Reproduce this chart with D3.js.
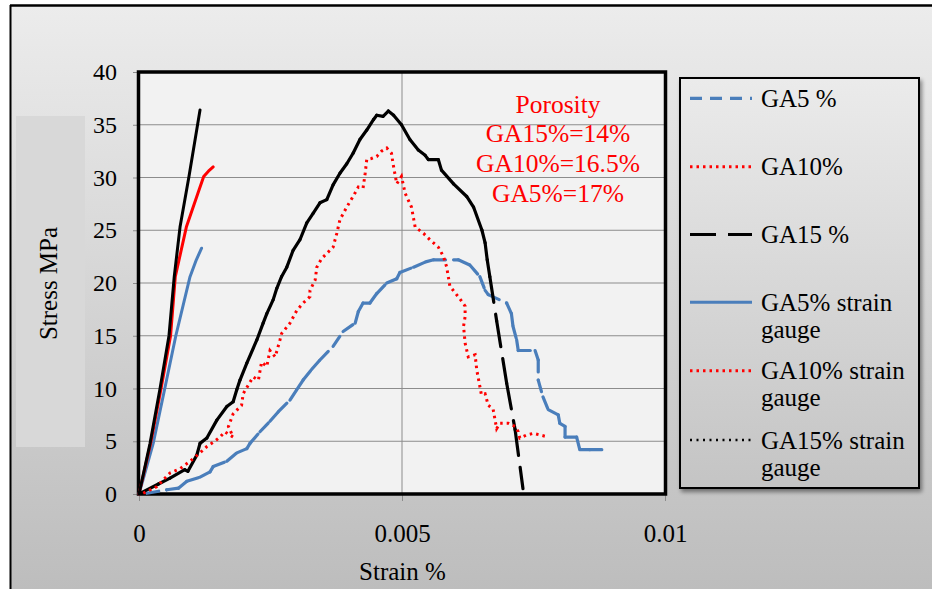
<!DOCTYPE html>
<html>
<head>
<meta charset="utf-8">
<script src="https://cdn.jsdelivr.net/npm/d3@7"></script>
<style>
  html, body { margin: 0; padding: 0; background: #fff; }
  svg text, svg tspan { font-family: "Liberation Serif", "Times New Roman", Times, "DejaVu Serif", serif !important; }
</style>
</head>
<body>
<svg id="chart" width="932" height="589"></svg>
<script>
// ---------- data (strain, stress MPa) ----------
const xTicks = [0, 0.005, 0.01];
const xTickLabels = ["0", "0.005", "0.01"];
const yTicks = [0, 5, 10, 15, 20, 25, 30, 35, 40];

const ga5 = [[0.00015,0.07],[0.00053,0.4],[0.00075,0.55],[0.00091,1.2],[0.00116,1.6],[0.00135,2.1],[0.00141,2.6],
  [0.00167,3.1],[0.00186,3.9],[0.00205,4.3],[0.00211,4.8],[0.0023,5.9],[0.00249,6.9],[0.00265,7.8],[0.00287,8.9],
  [0.003,9.9],[0.00312,10.8],[0.00328,11.8],[0.00344,12.7],[0.00369,14.0],[0.00388,15.4],[0.00411,16.2],[0.00417,17.3],
  [0.00426,18.1],[0.00439,18.1],[0.00452,19.0],[0.00471,20.0],[0.0049,20.4],[0.00496,21.0],[0.00522,21.5],[0.00545,22.0],
  [0.0056,22.2],[0.00607,22.2],[0.00629,21.7],[0.00648,20.6],[0.00658,19.3],[0.00664,18.9],[0.00699,18.1],[0.00708,17.1],
  [0.00711,15.9],[0.00718,14.6],[0.00721,13.6],[0.00753,13.6],[0.00759,12.7],[0.00759,10.8],[0.00768,9.2],[0.00778,8.0],
  [0.00797,7.5],[0.008,6.7],[0.0081,6.4],[0.0081,5.4],[0.00832,5.4],[0.00838,4.2],[0.00857,4.2],[0.00895,4.2]];

const ga10 = [[0.00008,0.07],[0.00034,0.7],[0.00059,2.0],[0.00078,2.4],[0.00097,3.1],[0.00116,3.9],[0.00129,4.5],
  [0.00144,5.0],[0.00154,5.4],[0.00163,5.9],[0.00179,5.4],[0.0017,6.4],[0.00179,7.6],[0.00195,8.4],[0.00198,9.5],
  [0.00217,11.1],[0.00227,10.8],[0.00233,12.5],[0.00243,12.1],[0.00249,13.6],[0.00259,13.0],[0.00268,14.6],[0.00271,15.2],
  [0.00287,16.2],[0.003,17.4],[0.00312,18.1],[0.00325,18.7],[0.00325,19.3],[0.00335,20.3],[0.00338,21.5],[0.00347,22.3],
  [0.00363,23.1],[0.00369,23.4],[0.00376,24.7],[0.00382,26.0],[0.00395,27.2],[0.00407,28.2],[0.00417,29.1],[0.00426,29.0],
  [0.0043,30.4],[0.00433,31.7],[0.00442,31.8],[0.00452,32.0],[0.00461,32.5],[0.00471,32.8],[0.0048,32.3],[0.00483,31.3],
  [0.0049,29.4],[0.00499,30.1],[0.00506,28.5],[0.00518,27.2],[0.00525,25.3],[0.00541,24.7],[0.00553,24.1],[0.00569,23.4],
  [0.00579,22.5],[0.00585,21.5],[0.00591,19.7],[0.0061,18.5],[0.0062,17.8],[0.0062,16.8],[0.00617,15.9],[0.0062,14.3],
  [0.00626,13.0],[0.00639,13.2],[0.00642,11.8],[0.00648,10.2],[0.00651,9.4],[0.00658,9.5],[0.00664,8.4],[0.00673,8.1],
  [0.00677,7.0],[0.0068,6.2],[0.00686,6.7],[0.00702,6.7],[0.00715,6.4],[0.00721,5.9],[0.00724,5.3],[0.00737,5.6],
  [0.0075,5.75],[0.00762,5.6],[0.00778,5.4]];

const ga15 = [[0.00002,0.06],[0.00037,0.95],[0.00059,1.5],[0.00087,2.3],[0.00093,2.15],[0.0011,3.7],[0.00116,4.8],
  [0.00129,5.3],[0.00148,7.0],[0.00167,8.3],[0.00179,8.75],[0.00186,9.9],[0.00192,10.8],[0.00205,12.4],[0.00224,14.6],
  [0.00236,16.2],[0.00243,17.1],[0.00255,18.4],[0.00262,19.5],[0.00271,20.6],[0.00281,21.5],[0.00293,23.1],[0.00306,24.1],
  [0.00319,25.7],[0.00331,26.6],[0.00344,27.6],[0.00357,27.9],[0.00369,29.3],[0.00382,30.4],[0.00395,31.3],[0.00407,32.3],
  [0.0042,33.6],[0.00433,34.5],[0.00446,35.5],[0.00452,35.9],[0.00464,35.8],[0.00474,36.3],[0.00484,35.9],[0.00499,35.0],
  [0.00515,33.6],[0.00531,32.6],[0.00544,32.1],[0.0055,31.7],[0.00569,31.7],[0.00575,30.7],[0.00598,29.4],[0.00623,28.2],
  [0.00636,27.2],[0.00652,25.0],[0.00658,23.8],[0.00662,22.2],[0.00667,20.6],[0.0068,16.4],[0.00699,10.5],[0.00715,6.1],
  [0.0073,0.5]];

const ga5Gauge = [[0,0],[0.00027,4.8],[0.00049,10],[0.0007,15],[0.00097,20.6],[0.00109,22.2],[0.00119,23.3]];
const ga10Gauge = [[0,0],[0.00022,4.8],[0.00042,10],[0.0006,15],[0.00069,20.6],[0.0009,25.3],[0.00112,28.5],
  [0.00123,30.1],[0.00132,30.6],[0.00141,31.0]];
const ga15Gauge = [[0,0],[0.00021,4.8],[0.0004,10],[0.00057,15],[0.00067,20.6],[0.00078,25.3],[0.00095,30.1],[0.00116,36.4]];

const seriesNames = ["GA5 %", "GA10%", "GA15 %", "GA5% strain gauge", "GA10% strain gauge", "GA15% strain gauge"];
const porosityLines = ["Porosity", "GA15%=14%", "GA10%=16.5%", "GA5%=17%"];

// ---------- layout ----------
const FONT = '"Liberation Serif", "Times New Roman", Times, "DejaVu Serif", serif';
const svg = d3.select("#chart");
const W = 932, H = 589;
const plot = { left: 139, top: 72, right: 665, bottom: 494 };
const x = d3.scaleLinear().domain([0, 0.01]).range([plot.left, plot.right]);
const y = d3.scaleLinear().domain([0, 40]).range([plot.bottom, plot.top]);

const defs = svg.append("defs");
const bg = defs.append("linearGradient").attr("id", "bg").attr("x1", 0).attr("y1", 0).attr("x2", 0).attr("y2", 1);
bg.append("stop").attr("offset", "0%").attr("stop-color", "#ececec");
bg.append("stop").attr("offset", "100%").attr("stop-color", "#bdbdbd");
const lg = defs.append("linearGradient").attr("id", "lg").attr("x1", 0).attr("y1", 0).attr("x2", 0).attr("y2", 1);
lg.append("stop").attr("offset", "0%").attr("stop-color", "#ebebeb");
lg.append("stop").attr("offset", "100%").attr("stop-color", "#c4c4c4");
const sh = defs.append("filter").attr("id", "shadow").attr("x", "-10%").attr("y", "-10%").attr("width", "130%").attr("height", "130%");
sh.append("feGaussianBlur").attr("in", "SourceAlpha").attr("stdDeviation", 2);
sh.append("feOffset").attr("dx", 2).attr("dy", 3).attr("result", "b");
sh.append("feComponentTransfer").append("feFuncA").attr("type", "linear").attr("slope", 0.45);
const m = sh.append("feMerge"); m.append("feMergeNode"); m.append("feMergeNode").attr("in", "SourceGraphic");

// figure background + frame
svg.append("rect").attr("x", 0).attr("y", 0).attr("width", W).attr("height", H).attr("fill", "#fff");
svg.append("rect").attr("x", 10).attr("y", 5).attr("width", W - 10).attr("height", H - 5).attr("fill", "url(#bg)");
svg.append("line").attr("x1", 10.5).attr("x2", 10.5).attr("y1", 5).attr("y2", H).attr("stroke", "#000").attr("stroke-width", 2);
svg.append("line").attr("x1", 10).attr("x2", W).attr("y1", 5.5).attr("y2", 5.5).attr("stroke", "#000").attr("stroke-width", 2.5);

// y-label panel
svg.append("rect").attr("x", 16).attr("y", 116).attr("width", 69).attr("height", 331).attr("fill", "#d8d8d8");

// plot area
svg.append("rect").attr("x", plot.left).attr("y", plot.top).attr("width", plot.right - plot.left)
  .attr("height", plot.bottom - plot.top).attr("fill", "#f2f2f2");

// gridlines
svg.append("g").selectAll("line").data(yTicks.filter(d => d > 0 && d < 40)).join("line")
  .attr("x1", plot.left).attr("x2", plot.right).attr("y1", d => y(d)).attr("y2", d => y(d))
  .attr("stroke", "#8c8c8c").attr("stroke-width", 1);
svg.append("line").attr("x1", x(0.005)).attr("x2", x(0.005)).attr("y1", plot.top).attr("y2", plot.bottom)
  .attr("stroke", "#8c8c8c").attr("stroke-width", 1);

// axes
const yAxis = d3.axisLeft(y).tickValues(yTicks).tickSize(6).tickPadding(16).tickFormat(d3.format("d"));
const gy = svg.append("g").attr("transform", `translate(${plot.left},0)`).call(yAxis).attr("font-family", FONT);
gy.select(".domain").remove();
gy.selectAll(".tick line").attr("stroke", "#8c8c8c");
gy.selectAll(".tick text").attr("font-size", 24).attr("fill", "#000").style("font-family", FONT);

const xAxis = d3.axisBottom(x).tickValues(xTicks).tickSize(7).tickPadding(23).tickFormat((d, i) => xTickLabels[i]);
const gx = svg.append("g").attr("transform", `translate(0,${plot.bottom})`).call(xAxis).attr("font-family", FONT);
gx.select(".domain").remove();
gx.selectAll(".tick line").attr("stroke", "#8c8c8c");
gx.selectAll(".tick text").attr("font-size", 25).attr("fill", "#000").style("font-family", FONT);

// plot border
svg.append("rect").attr("x", plot.left - 0.5).attr("y", plot.top).attr("width", plot.right - plot.left + 1)
  .attr("height", plot.bottom - plot.top).attr("fill", "none").attr("stroke", "#000").attr("stroke-width", 3.5);

// axis titles
svg.append("text").attr("x", 402.5).attr("y", 580).attr("text-anchor", "middle").attr("font-size", 25)
  .style("font-family", FONT).text("Strain %");
svg.append("text").attr("transform", `translate(57,${(116 + 447) / 2 + 2}) rotate(-90)`).attr("text-anchor", "middle")
  .attr("font-size", 25).style("font-family", FONT).text("Stress MPa");

// ---------- series ----------
const line = d3.line().x(d => x(d[0])).y(d => y(d[1]));
const gS = svg.append("g");

// solid strain gauge curves
[[ga5Gauge, "#4a7ebb"], [ga10Gauge, "#ff0000"], [ga15Gauge, "#000"]].forEach(([pts, c]) => {
  gS.append("path").datum(pts).attr("d", line).attr("fill", "none").attr("stroke", c)
    .attr("stroke-width", 3).attr("stroke-linejoin", "round").attr("stroke-linecap", "round");
});

// dashed curves: dash pattern restarts at each data point (as in the original)
function segDashed(pts, color, dash, width) {
  gS.append("g").selectAll("path").data(d3.pairs(pts)).join("path")
    .attr("d", d => line(d)).attr("fill", "none").attr("stroke", color).attr("stroke-width", width)
    .attr("stroke-dasharray", dash).attr("stroke-linecap", "round");
}
segDashed(ga5, "#4a7ebb", "12,8", 3.2);
segDashed(ga15, "#000", "26,12", 3.2);

// dotted GA10%
gS.append("path").datum(ga10).attr("d", line).attr("fill", "none").attr("stroke", "#ff0000")
  .attr("stroke-width", 3).attr("stroke-dasharray", "2.5,4").attr("stroke-linecap", "butt");

// ---------- annotation ----------
const annY = [113, 142, 172, 201.5];
svg.append("g").selectAll("text").data(porosityLines).join("text")
  .attr("x", 558).attr("y", (d, i) => annY[i]).attr("text-anchor", "middle")
  .attr("font-size", 25.5).attr("fill", "#ff0000").style("font-family", FONT).text(d => d);

// ---------- legend ----------
const leg = svg.append("g");
leg.append("rect").attr("x", 680).attr("y", 78).attr("width", 239).attr("height", 410)
  .attr("fill", "url(#lg)").attr("stroke", "#000").attr("stroke-width", 2).attr("filter", "url(#shadow)");

const legStyles = [
  { c: "#4a7ebb", dash: "12,8", w: 3.2 },
  { c: "#ff0000", dash: "2.5,4", w: 3 },
  { c: "#000", dash: "26,12", w: 3.2 },
  { c: "#4a7ebb", dash: null, w: 3 },
  { c: "#ff0000", dash: "2.5,4", w: 3 },
  { c: "#000", dash: "2,4.5", w: 2.5 }
];
const legY = [98.3, 166.7, 234.5, 302.3, 370.7, 440];
const legItems = leg.selectAll("g.item").data(seriesNames).join("g").attr("class", "item")
  .attr("transform", (d, i) => `translate(0,${legY[i]})`);
legItems.append("line").attr("x1", 690).attr("x2", 752).attr("y1", 0).attr("y2", 0)
  .attr("stroke", (d, i) => legStyles[i].c).attr("stroke-width", (d, i) => legStyles[i].w)
  .attr("stroke-dasharray", (d, i) => legStyles[i].dash);
legItems.each(function(d) {
  const words = d.split(" ");
  const rows = words.length > 2 ? [words[0] + " " + words[1], words.slice(2).join(" ")] : [d];
  const t = d3.select(this).append("text").attr("x", 761).attr("y", 8.5).attr("font-size", 25).style("font-family", FONT);
  rows.forEach((r, j) => t.append("tspan").attr("x", 761).attr("dy", j === 0 ? 0 : 27).text(r));
});
</script>
</body>
</html>
